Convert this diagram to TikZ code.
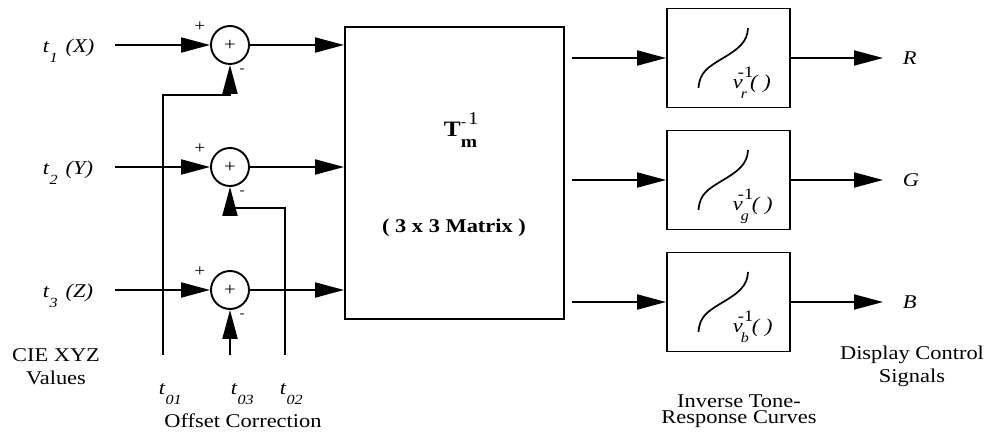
\documentclass[tikz,border=0pt]{standalone}
\usepackage{fontspec}
\setmainfont{Liberation Serif}[FakeStretch=1.15]
\usetikzlibrary{arrows.meta,calc}
\newcommand\tsub[2]{\textit{#1}\raisebox{-10pt}{\fontsize{14}{14}\selectfont\textit{#2}}}
\newcommand\vlab[1]{\textit{v}\hspace{-5pt}\rlap{\raisebox{11.5pt}{\fontsize{16}{16}\selectfont -1}}\hspace{3pt}\raisebox{-10pt}{\fontsize{14}{14}\selectfont\textit{#1}}\hspace{3pt}\textit{( )}}
\begin{document}
\begin{tikzpicture}[x=1pt,y=-1pt,line width=1.9pt,
  every node/.style={inner sep=0pt},
  txt/.style={font=\fontsize{19.5}{23}\selectfont},
  arr/.style={-{Triangle[length=29pt,width=15pt]}},
  sumnode/.style={circle,draw,minimum size=38pt,font=\fontsize{18}{18}\selectfont},
  matbox/.style={draw,minimum width=219pt,minimum height=292pt},
  trcbox/.style={draw,minimum width=123pt,minimum height=99pt},
  plussign/.style={font=\fontsize{17}{17}\selectfont},
  minussign/.style={font=\fontsize{13}{13}\selectfont},
  curve/.style={line width=1.7pt}]
\useasboundingbox (0,0) rectangle (989,438);

% summing junctions
\node[sumnode] (s1) at (230,45) {+};
\node[sumnode] (s2) at (230,167) {+};
\node[sumnode] (s3) at (230,290) {+};

% matrix and curve boxes
\node[matbox] (M) at (454.5,173) {};
\node[trcbox] (c1) at (728.5,58) {};
\node[trcbox] (c2) at (728.5,180) {};
\node[trcbox] (c3) at (728.5,302) {};

% input labels
\node[txt,anchor=base west] (x1) at (42,53) {\tsub{t}{1}\hspace{8pt}\textit{(X)}};
\node[txt,anchor=base west] (x2) at (42,175) {\tsub{t}{2}\hspace{8pt}\textit{(Y)}};
\node[txt,anchor=base west] (x3) at (42,298) {\tsub{t}{3}\hspace{8pt}\textit{(Z)}};

% inputs
\coordinate (a1) at (115,45);
\coordinate (a2) at (115,167);
\coordinate (a3) at (115,290);
\draw[arr] (a1) -- (s1);
\draw[arr] (a2) -- (s2);
\draw[arr] (a3) -- (s3);

% signs
\node[plussign] (p1) at (200,27) {+};
\node[plussign] (p2) at (200,149) {+};
\node[plussign] (p3) at (200,272) {+};
\node[minussign] (m1) at (242,71) {-};
\node[minussign] (m2) at (242,193) {-};
\node[minussign] (m3) at (242,316) {-};

% sums to matrix
\draw[arr] (s1) -- (s1 -| M.west);
\draw[arr] (s2) -- (s2 -| M.west);
\draw[arr] (s3) -- (s3 -| M.west);

% offsets
\coordinate (o1) at (163,355);
\coordinate (k1) at (230,95);
\coordinate (o2) at (285,355);
\coordinate (k2) at (230,208);
\coordinate (o3) at (230,355);
\draw[arr] (o1) |- (k1) -- (s1);
\draw[arr] (o2) |- (k2) -- (s2);
\draw[arr] (o3) -- (s3);

% matrix text
\node[anchor=base west] (tm) at (443,137) {\fontsize{22}{22}\selectfont\bfseries T\rlap{\mdseries\raisebox{10pt}{\fontsize{14}{14}\selectfont -}\hspace{2pt}\raisebox{12pt}{\fontsize{18}{18}\selectfont 1}}\raisebox{-11pt}{\fontsize{17}{17}\selectfont m}};
\node[txt,anchor=base] (mx) at (454,233) {\bfseries ( 3 x 3 Matrix )};

% matrix to curves
\foreach \i in {1,2,3}{
  \coordinate (e\i) at ($(M.east |- c\i)+(7,0)$);
  \draw[arr] (e\i) -- (c\i.west);
  \draw[curve] ($(c\i)+(-30,30)$) .. controls +(1,-16) and +(-13,8) .. ($(c\i)+(-7,1)$) .. controls +(17,-10) and +(-0.5,14) .. ($(c\i)+(19.5,-30)$);
}
\node[txt,anchor=base west] (v1) at ($(c1)+(3.5,31)$) {\vlab{r}};
\node[txt,anchor=base west] (v2) at ($(c2)+(3.5,31)$) {\vlab{g}};
\node[txt,anchor=base west] (v3) at ($(c3)+(3.5,31)$) {\vlab{b}};

% outputs
\coordinate (r1) at (883,58);
\coordinate (r2) at (883,180);
\coordinate (r3) at (883,302);
\draw[arr] (c1.east) -- (r1);
\draw[arr] (c2.east) -- (r2);
\draw[arr] (c3.east) -- (r3);
\node[txt,anchor=west] (R) at (902,58) {\textit{R}};
\node[txt,anchor=west] (G) at (902,180) {\textit{G}};
\node[txt,anchor=west] (B) at (902,302) {\textit{B}};

% bottom labels
\node[txt,anchor=base west] (t01) at (158,395) {\tsub{t}{01}};
\node[txt,anchor=base west] (t03) at (230,395) {\tsub{t}{03}};
\node[txt,anchor=base west] (t02) at (279,395) {\tsub{t}{02}};
\node[txt,anchor=base] (oc) at (243,428) {Offset Correction};
\node[txt,anchor=base,align=center] (cie) at (56,385) {CIE XYZ\\Values};
\node[txt,anchor=base,align=center] (dcs) at (912,383) {Display Control\\Signals};
\node[txt,anchor=base,align=center,font=\fontsize{19.5}{16}\selectfont] (irc) at (739,424) {Inverse Tone-\\Response Curves};
\end{tikzpicture}
\end{document}
